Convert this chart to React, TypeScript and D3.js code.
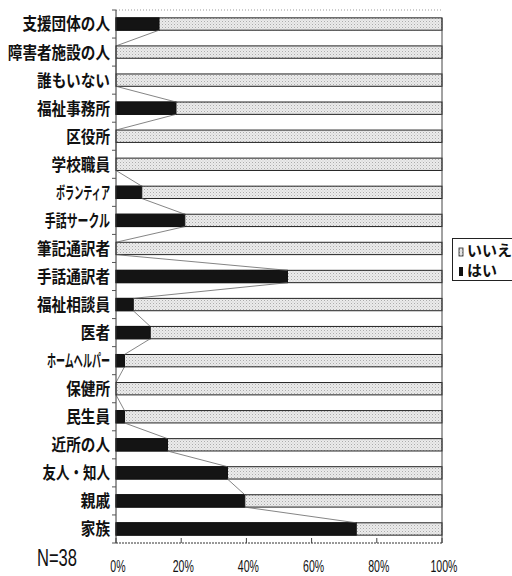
import React from "react";
import * as d3 from "d3";

const categories = [
  "支援団体の人",
  "障害者施設の人",
  "誰もいない",
  "福祉事務所",
  "区役所",
  "学校職員",
  "ボランティア",
  "手話サークル",
  "筆記通訳者",
  "手話通訳者",
  "福祉相談員",
  "医者",
  "ホームヘルパー",
  "保健所",
  "民生員",
  "近所の人",
  "友人・知人",
  "親戚",
  "家族",
];
const yesValues = [13.2, 0, 0, 18.4, 0, 0, 7.9, 21.1, 0, 52.6, 5.3, 10.5, 2.6, 0, 2.6, 15.8, 34.2, 39.5, 73.7];
const xTicks = [0, 20, 40, 60, 80, 100];
const legendLabels = ["いいえ", "はい"];
const sampleNote = "N=38";

function labelWidth(s: string) {
  let w = 0;
  for (const ch of s) {
    const code = ch.charCodeAt(0);
    if (ch === "・") w += 9;
    else if (code >= 0x30a0 && code <= 0x30ff) w += 9;
    else w += 14.6;
  }
  return w;
}

export default function App() {
  const left = 116, right = 442, top = 10, bottom = 543;
  const x = d3.scaleLinear().domain([0, 100]).range([left, right]);
  const y = d3.scaleBand<string>().domain(categories).range([top, bottom]).paddingInner(0.56).paddingOuter(0.28);
  const bh = y.bandwidth();
  const step = y.step();
  const jp = "'Noto Sans CJK JP', sans-serif";
  const lat = "'Liberation Sans', Arial, sans-serif";

  const series: [number, number][][] = [];
  for (let i = 0; i < categories.length - 1; i++) {
    series.push([
      [x(yesValues[i]), (y(categories[i]) as number) + bh],
      [x(yesValues[i + 1]), y(categories[i + 1]) as number],
    ]);
  }
  const lineGen = d3.line();

  return (
    <div style={{ position: "absolute", left: 0, top: 0 }}>
      <svg width={512} height={576} style={{ display: "block", background: "#fff" }}>
        <defs>
          <pattern id="dots" width={3} height={3} patternUnits="userSpaceOnUse">
            <rect width={3} height={3} fill="#ebebeb" />
            <rect x={0} y={0} width={1} height={1} fill="#acacac" />
            <rect x={1.5} y={1.5} width={1} height={1} fill="#c8c8c8" />
          </pattern>
        </defs>
        <line x1={left} x2={right} y1={top} y2={top} stroke="#999" strokeDasharray="1,2" />
        {categories.map((c, i) => {
          const yy = y(c) as number;
          return (
            <g key={c}>
              <rect x={x(0)} y={yy} width={x(100) - x(0)} height={bh} fill="url(#dots)" stroke="#222" strokeWidth={1} />
              {yesValues[i] > 0 && (
                <rect x={x(0)} y={yy} width={x(yesValues[i]) - x(0)} height={bh} fill="#141414" stroke="#111" strokeWidth={1} />
              )}
            </g>
          );
        })}
        {series.map((s, i) => (
          <path key={i} d={lineGen(s) as string} stroke="#666" strokeWidth={0.8} fill="none" />
        ))}
        <line x1={left} x2={left} y1={top} y2={bottom} stroke="#333" strokeWidth={1} />
        {d3.range(categories.length + 1).map((k) => (
          <line key={k} x1={left - 4} x2={left} y1={top + k * step} y2={top + k * step} stroke="#555" />
        ))}
        <line x1={right} x2={right} y1={top + 8} y2={bottom} stroke="#444" strokeWidth={1} />
        <line x1={left} x2={right} y1={bottom} y2={bottom} stroke="#333" strokeDasharray="2,1" />
        {xTicks.map((t) => (
          <g key={t}>
            <line x1={x(t)} x2={x(t)} y1={bottom - 5} y2={bottom} stroke="#444" />
            <g transform={`translate(${x(t) + 2},572) scale(0.66,1)`}>
              <text x={0} y={0} textAnchor="middle" fontFamily={lat} fontSize={16} fill="#111">
                {t}%
              </text>
            </g>
          </g>
        ))}
        {categories.map((c) => (
          <text
            key={c}
            x={110}
            y={(y(c) as number) + bh / 2}
            dy="0.38em"
            textAnchor="end"
            fontFamily={jp}
            fontSize={17}
            fontWeight={700}
            textLength={labelWidth(c)}
            lengthAdjust="spacingAndGlyphs"
            fill="#111"
          >
            {c}
          </text>
        ))}
        <g transform="translate(37,566) scale(0.72,1)">
          <text x={0} y={0} fontFamily={lat} fontSize={23} fill="#111">
            {sampleNote}
          </text>
        </g>
        <rect x={452.5} y={238.5} width={70} height={42} fill="#fff" stroke="#222" />
        <rect x={459} y={248} width={4} height={8} fill="url(#dots)" stroke="#222" strokeWidth={0.8} />
        <text x={467} y={251} dy="0.36em" fontFamily={jp} fontSize={15} fontWeight={700} fill="#111">
          {legendLabels[0]}
        </text>
        <rect x={459} y={267} width={4} height={9} fill="#111" />
        <text x={467} y={271} dy="0.36em" fontFamily={jp} fontSize={15} fontWeight={700} fill="#111">
          {legendLabels[1]}
        </text>
      </svg>
    </div>
  );
}
